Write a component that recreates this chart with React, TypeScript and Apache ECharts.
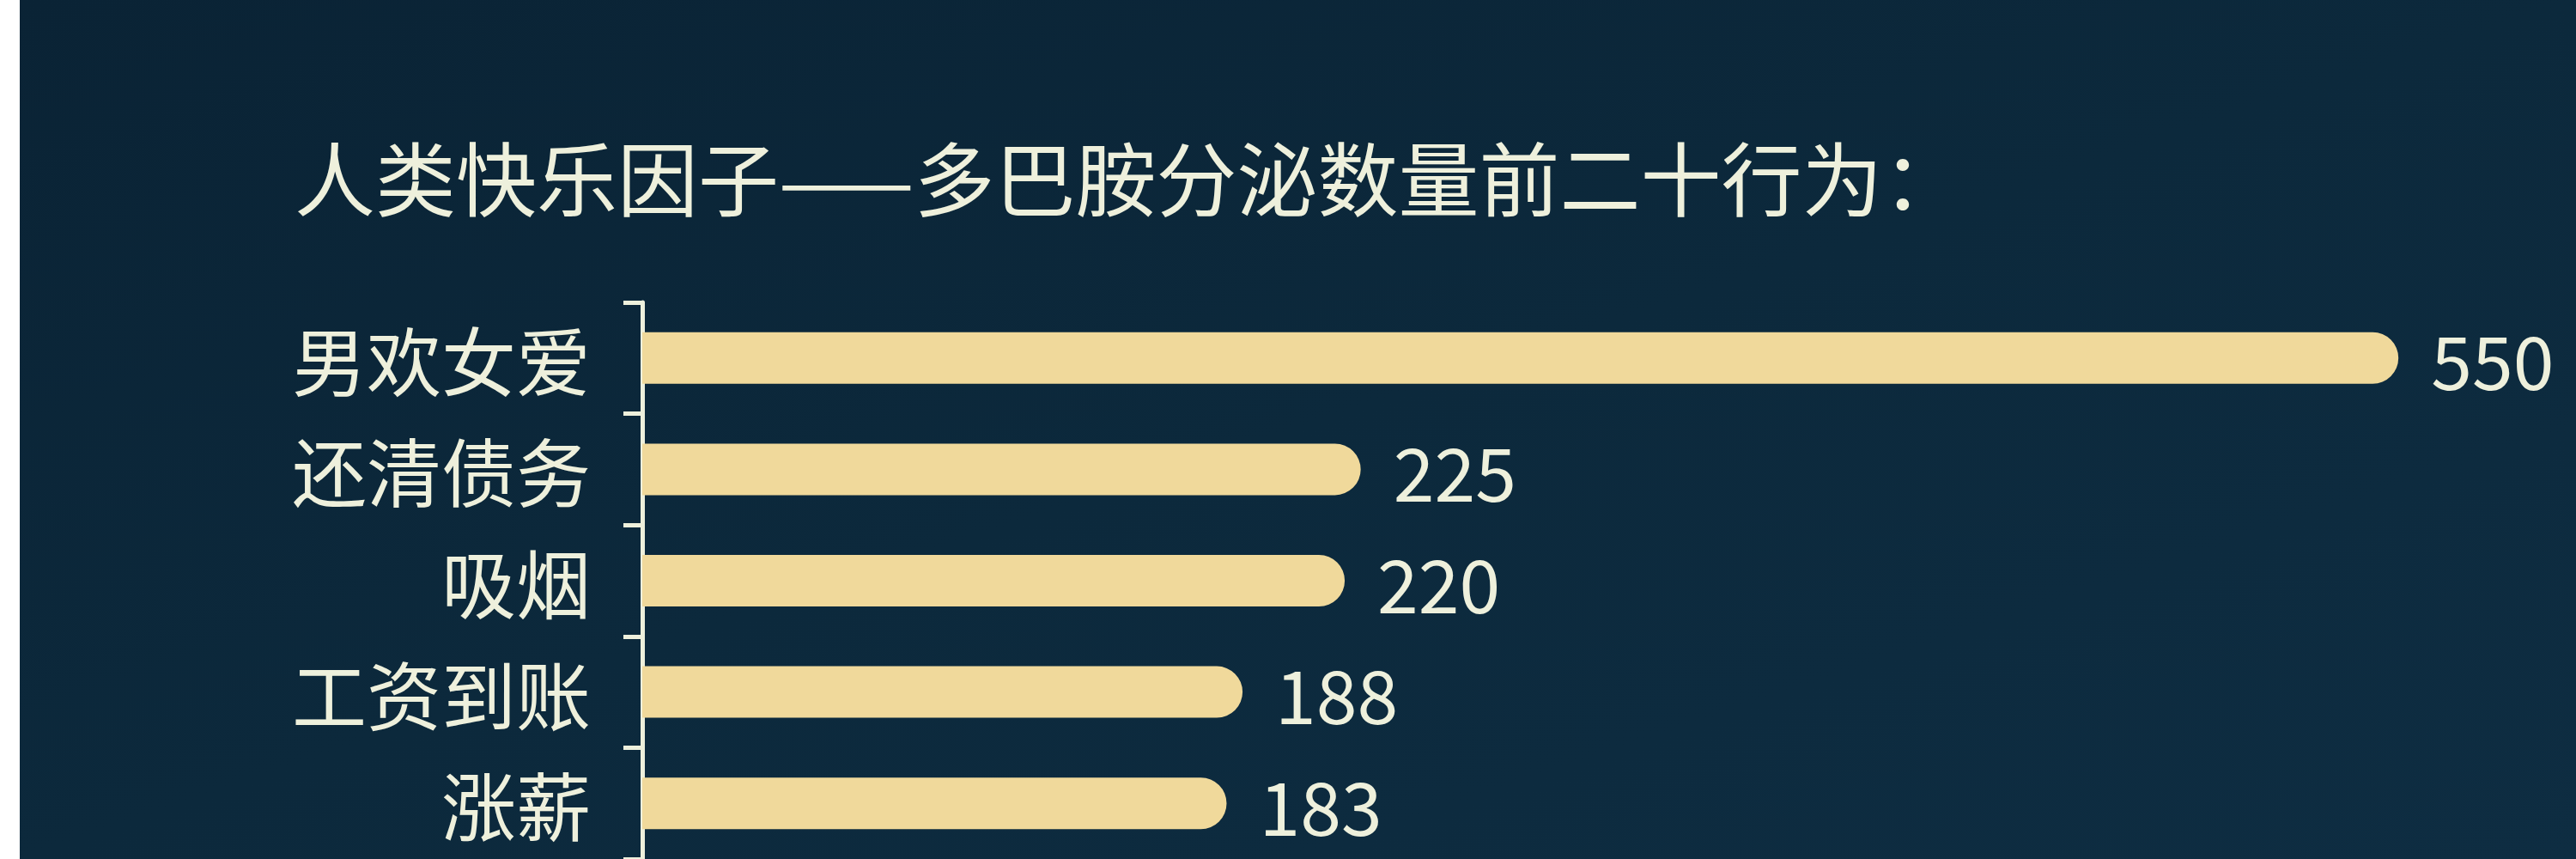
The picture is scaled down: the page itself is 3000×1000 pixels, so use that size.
import React, { useEffect, useRef } from "react";
import * as echarts from "echarts";

const titleText = "人类快乐因子——多巴胺分泌数量前二十行为：";
const categories = ["男欢女爱", "还清债务", "吸烟", "工资到账", "涨薪"];
const values = [550, 225, 220, 188, 183];

const FONT = '"Noto Sans CJK SC", "Noto Sans", sans-serif';
const TEXT = "#eef0dc";
const BAR = "#f0d99b";

export default function App() {
  const ref = useRef<HTMLDivElement>(null);
  useEffect(() => {
    document.body.style.margin = "0";
    const chart = echarts.init(ref.current!, undefined, { renderer: "svg" });
    chart.setOption({
      animation: false,
      backgroundColor: {
        type: "linear",
        x: 0,
        y: 0,
        x2: 1,
        y2: 1,
        colorStops: [
          { offset: 0, color: "#0a2335" },
          { offset: 0.5, color: "#0c293c" },
          { offset: 1, color: "#0e2d42" },
        ],
      },
      title: {
        text: titleText,
        left: 320,
        top: 157,
        padding: 0,
        textStyle: { color: TEXT, fontSize: 94, fontWeight: "normal", fontFamily: FONT },
      },
      grid: { left: 725, right: 125, top: 352, bottom: -22, containLabel: false },
      xAxis: {
        type: "value",
        min: 0,
        max: 572,
        show: false,
      },
      yAxis: {
        type: "category",
        data: categories,
        inverse: true,
        axisLine: { show: true, lineStyle: { color: TEXT, width: 5 } },
        axisTick: { show: true, length: 22, lineStyle: { color: TEXT, width: 5 } },
        axisLabel: {
          margin: 60,
          color: TEXT,
          fontSize: 87,
          fontFamily: FONT,
        },
        splitLine: { show: false },
      },
      series: [
        {
          type: "bar",
          data: values,
          barWidth: 60,
          itemStyle: { color: BAR, borderRadius: [0, 30, 30, 0] },
          label: {
            show: true,
            position: "right",
            distance: 38,
            color: TEXT,
            fontSize: 86,
            fontFamily: FONT,
          },
        },
      ],
    });
    return () => chart.dispose();
  }, []);
  return (
    <div style={{ position: "fixed", left: 0, top: 0, width: 3000, height: 1000, background: "#ffffff" }}>
      <div ref={ref} style={{ position: "absolute", left: 23, top: 0, width: 2977, height: 1000 }} />
    </div>
  );
}
